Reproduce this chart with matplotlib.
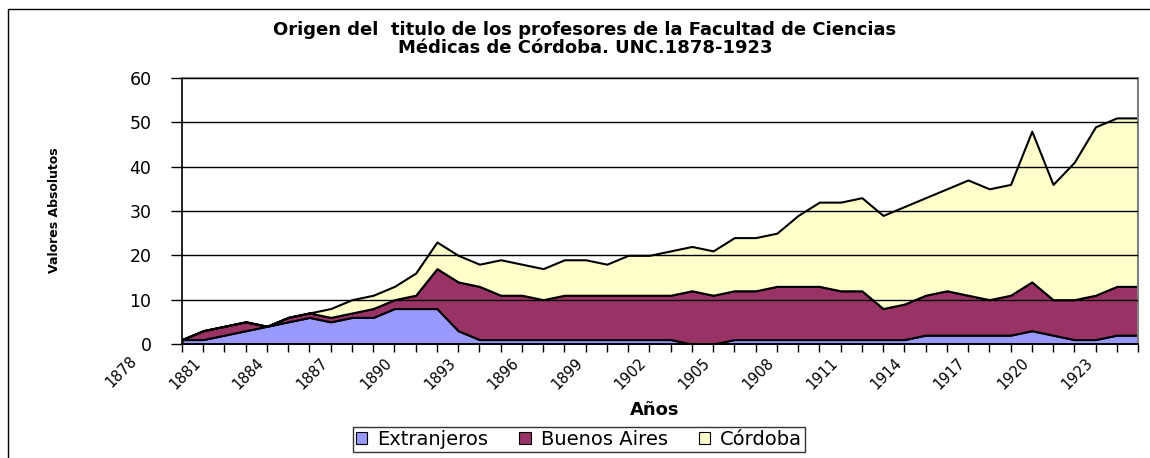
import matplotlib
matplotlib.use("Agg")
import matplotlib.pyplot as plt
from matplotlib.lines import Line2D
from matplotlib.patches import Patch

# Datos (1880-1925)
anios = list(range(1880, 1926))
extranjeros = [1, 1, 2, 3, 4, 5, 6, 5, 6, 6, 8, 8, 8, 3, 1, 1,
               1, 1, 1, 1, 1, 1, 1, 1, 0, 0, 1, 1, 1, 1, 1, 1,
               1, 1, 1, 2, 2, 2, 2, 2, 3, 2, 1, 1, 2, 2]
buenos_aires = [0, 2, 2, 2, 0, 1, 1, 1, 1, 2, 2, 3, 9, 11, 12, 10,
                10, 9, 10, 10, 10, 10, 10, 10, 12, 11, 11, 11, 12, 12, 12, 11,
                11, 7, 8, 9, 10, 9, 8, 9, 11, 8, 9, 10, 11, 11]
cordoba = [0, 0, 0, 0, 0, 0, 0, 2, 3, 3, 3, 5, 6, 6, 5, 8,
           7, 7, 8, 8, 7, 9, 9, 10, 10, 10, 12, 12, 12, 16, 19, 20,
           21, 21, 22, 22, 23, 26, 25, 25, 34, 26, 31, 38, 38, 38]
series = ["Extranjeros", "Buenos Aires", "Córdoba"]
colores = ["#9999FF", "#993366", "#FFFFCC"]
etiquetas_x = [str(a) for a in range(1878, 1924, 3)]

W, H = 1150, 458
fig = plt.figure(figsize=(W / 100, H / 100), dpi=100)
ax = fig.add_axes([182 / W, 1 - 344 / H, (1138 - 182) / W, (344 - 78) / H])

x = list(range(len(anios)))
ax.stackplot(x, extranjeros, buenos_aires, cordoba, colors=colores,
             edgecolor="black", linewidth=1.5)

ax.set_xlim(0, len(anios) - 1)
ax.set_ylim(0, 60)
ax.set_yticks(range(0, 61, 10))
ax.yaxis.grid(True, color="black", linewidth=1)
ax.set_axisbelow(False)
for g in ax.get_ygridlines():
    g.set_zorder(0.5)

# ticks: una marca por año, etiqueta cada 3 (1878 cae fuera del eje)
ax.set_xticks(x, minor=True)
pos_lbl = [anios.index(int(a)) if int(a) in anios else None for a in etiquetas_x]
ax.set_xticks([p for p in pos_lbl if p is not None])
ax.set_xticklabels([a for a, p in zip(etiquetas_x, pos_lbl) if p is not None],
                   rotation=45, ha="right", va="top", fontsize=10.5)
ax.tick_params(axis="x", which="both", length=6, width=1, direction="out", pad=2)
ax.tick_params(axis="y", length=8, width=1, labelsize=12.5, pad=14)
for a, p in zip(etiquetas_x, pos_lbl):
    if p is None:
        idx = int(a) - anios[0]
        ax.annotate(a, xy=(idx, 0), xycoords=ax.get_xaxis_transform(),
                    xytext=(0, -6.5), textcoords="offset points",
                    rotation=45, ha="right", va="top", fontsize=10.5,
                    annotation_clip=False)

for s in ["top", "right"]:
    ax.spines[s].set_color("#808080")
    ax.spines[s].set_linewidth(1.5)
ax.spines["left"].set_linewidth(1.2)
ax.spines["bottom"].set_linewidth(1.2)

fig.text(655 / W, 1 - 410 / H, "Años", fontsize=13, fontweight="bold",
         ha="center", va="center")
fig.text(55 / W, 1 - 210 / H, "Valores Absolutos", rotation=90, fontsize=9,
         fontweight="bold", ha="center", va="center")

fig.text(585 / W, 1 - 39 / H,
         "Origen del  titulo de los profesores de la Facultad de Ciencias\n"
         "Médicas de Córdoba. UNC.1878-1923",
         ha="center", va="center", fontsize=13, fontweight="bold",
         linespacing=0.98)

handles = [Patch(facecolor=c, edgecolor="black", linewidth=0.8) for c in colores]
leg = fig.legend(handles, series, loc="center", bbox_to_anchor=(579 / W, 1 - 439.5 / H),
                 ncol=3, fontsize=14, frameon=True, fancybox=False,
                 handlelength=0.6, handleheight=0.55, handletextpad=0.5,
                 columnspacing=1.6, borderpad=0.15)
leg.get_frame().set_edgecolor("black")
leg.get_frame().set_linewidth(1)

# marco exterior
fig.add_artist(Line2D([8 / W, 8 / W, 1], [0, 1 - 9 / H, 1 - 9 / H],
                      transform=fig.transFigure, color="black", linewidth=1))

fig.savefig("out.png", dpi=100)
